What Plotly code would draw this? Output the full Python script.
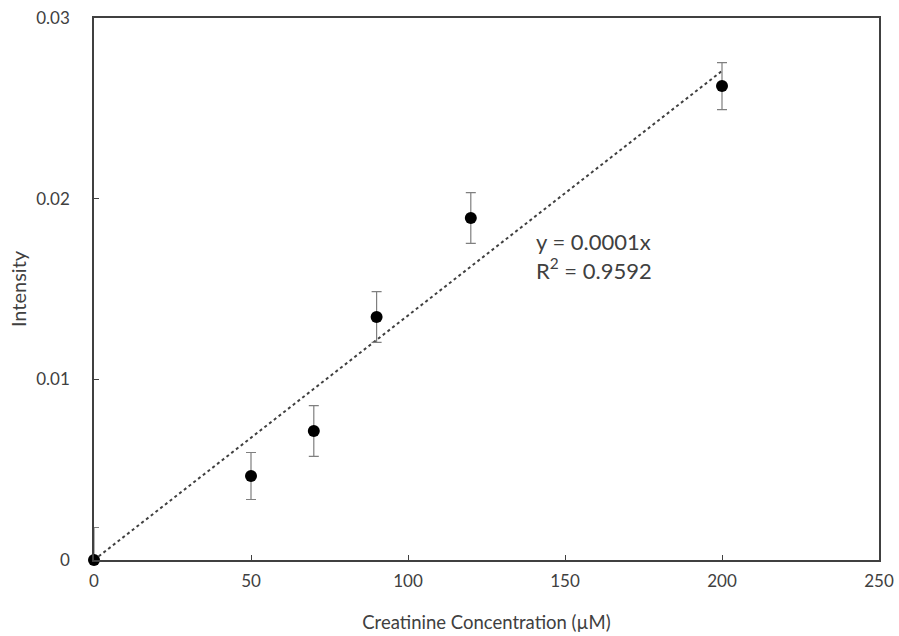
import numpy as np
import plotly.graph_objects as go

# Creatinine calibration data
conc = [0, 50, 70, 90, 120, 200]
intensity = [0.0, 0.00465, 0.00714, 0.01345, 0.01893, 0.02623]
err = [0.0018, 0.0013, 0.0014, 0.0014, 0.0014, 0.0013]

x_ticks = [0, 50, 100, 150, 200, 250]
y_ticks = [0, 0.01, 0.02, 0.03]
y_tick_text = ["0", "0.01", "0.02", "0.03"]

# Least-squares line forced through the origin
xa = np.array(conc, dtype=float)
ya = np.array(intensity, dtype=float)
slope = float((xa * ya).sum() / (xa * xa).sum())
fit_x = [0, 200]
fit_y = [slope * v for v in fit_x]

font = "Lato, 'Open Sans', sans-serif"
grey = "#404040"

fig = go.Figure()
fig.add_trace(go.Scatter(
    x=fit_x, y=fit_y, mode="lines",
    line=dict(color=grey, width=2, dash="dot"),
    showlegend=False, hoverinfo="skip",
))
# error bars (clipped to the plot area)
fig.add_trace(go.Scatter(
    x=conc, y=intensity, mode="markers",
    marker=dict(color="rgba(0,0,0,0)", size=12),
    error_y=dict(type="data", array=err, visible=True,
                 color="#7f7f7f", thickness=1.2, width=5),
    showlegend=False, hoverinfo="skip",
))
# data points, allowed to overlap the axes
fig.add_trace(go.Scatter(
    x=conc, y=intensity, mode="markers",
    marker=dict(color="black", size=12),
    cliponaxis=False, showlegend=False,
))

fig.add_annotation(
    x=140, y=0.0168, xref="x", yref="y",
    text="y = 0.0001x<br>R<sup>2</sup> = 0.9592",
    showarrow=False, xanchor="left", yanchor="middle", align="left",
    font=dict(family=font, size=22, color=grey),
)

axis_common = dict(
    showgrid=False, zeroline=False, showline=True, mirror=True,
    linecolor=grey, linewidth=1.5, automargin=False,
    ticks="inside", ticklen=5, tickcolor=grey,
    tickfont=dict(family=font, size=17, color=grey),
)

fig.update_xaxes(
    range=[0, 250], tickvals=x_ticks, ticklabelstandoff=5,
    title=dict(text="Creatinine Concentration (µM)",
               font=dict(family=font, size=18.5, color=grey), standoff=26),
    **axis_common,
)
fig.update_yaxes(
    range=[0, 0.03], tickvals=y_ticks, ticktext=y_tick_text, ticklabelstandoff=19,
    title=dict(text="Intensity",
               font=dict(family=font, size=20, color=grey), standoff=4),
    **axis_common,
)

fig.update_layout(
    width=899, height=636,
    margin=dict(l=94, r=20, t=18, b=76),
    plot_bgcolor="white", paper_bgcolor="white",
)

fig.write_html("out.html")
